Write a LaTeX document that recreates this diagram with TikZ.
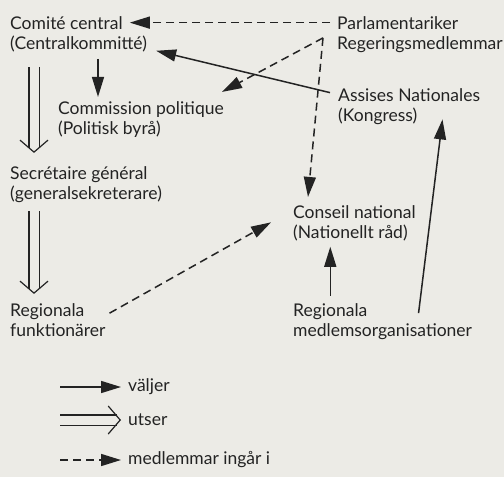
\documentclass[tikz,border=0pt]{standalone}
\usepackage{fontspec}
\setmainfont{Lato}
\usetikzlibrary{arrows.meta,calc}

\definecolor{paper}{RGB}{236,235,230}
\definecolor{ink}{RGB}{35,35,35}

\tikzset{
  lbl/.style={anchor=base west, inner sep=0pt, text=ink, font=\fontsize{17.5}{21}\selectfont},
  elect/.style={draw=ink, line width=1.5pt, -{Triangle[length=20pt,width=12pt]}},
  member/.style={elect, dash pattern=on 8pt off 5pt},
  appoint/.style={draw=ink, line width=1.1pt, double=paper, double distance=9pt, shorten >=4.5pt},
  vhead/.style={draw=paper, line width=1pt, -{Straight Barb[length=12pt,width=28pt,color=ink,line width=1.2pt]}}
}
\newcommand\appointarrow[2]{%
  \draw[appoint] (#1) -- (#2);
  \draw[vhead] ($(#2)!13pt!(#1)$) -- (#2);}

\begin{document}
\begin{tikzpicture}[x=1pt,y=-1pt]
\fill[paper](0,0) rectangle (504,477);
\useasboundingbox (0,0) rectangle (504,477);

% organs
\node[lbl] (cc) at (10,29) {Comité central};
\node[lbl] (cc2) at (10,49) {(Centralkommitté)};
\node[lbl] (parl) at (337,29) {Parlamentariker};
\node[lbl] (parl2) at (337,49) {Regeringsmedlemmar};
\node[lbl] (cp) at (58,114) {Commission politique};
\node[lbl] (cp2) at (58,134) {(Politisk byrå)};
\node[lbl] (an) at (338,101) {Assises Nationales};
\node[lbl] (an2) at (338,121) {(Kongress)};
\node[lbl] (sg) at (10,179) {Secrétaire général};
\node[lbl] (sg2) at (10,199) {(generalsekreterare)};
\node[lbl] (cn) at (293,218) {Conseil national};
\node[lbl] (cn2) at (293,238) {(Nationellt råd)};
\node[lbl] (rf) at (10,316) {Regionala};
\node[lbl] (rf2) at (10,336) {funktionärer};
\node[lbl] (rm) at (293,316) {Regionala};
\node[lbl] (rm2) at (293,336) {medlemsorganisationer};

\coordinate (pk) at ([xshift=-14pt,yshift=-2pt]parl2.north west);

% connectors
\draw[member] ([xshift=-7pt]parl.west) -- ([xshift=7pt]cc.east);
\draw[member] (pk) -- ([xshift=-2pt,yshift=9pt]cp.north east);
\draw[member] (pk) -- ([xshift=15pt,yshift=8pt]cn.north west);
\draw[member] ([xshift=25pt,yshift=-2pt]rf.east) -- ([xshift=-22pt,yshift=-4pt]cn.south west);
\draw[elect] ([xshift=-8pt,yshift=2pt]an.west) -- ([xshift=9pt,yshift=1pt]cc2.south east);
\draw[elect] ([xshift=40pt]cp.north west |- cc2.south) ++(0,7) -- ([xshift=40pt,yshift=4pt]cp.north west);
\draw[elect] ([yshift=7pt]rm.north) -- ([yshift=-6pt]rm.north |- cn2.south);
\draw[elect] ([xshift=51pt,yshift=-2pt]rm.east) -- ([xshift=25pt,yshift=5pt]an2.south east);

\coordinate (d1) at ([xshift=24pt,yshift=-15pt]cc2.south west);
\coordinate (d2) at ([xshift=24pt,yshift=13pt]sg.north west);
\coordinate (d3) at ([xshift=24pt,yshift=-9pt]sg2.south west);
\coordinate (d4) at ([xshift=24pt,yshift=9pt]rf.north west);
\appointarrow{d1}{d2}
\appointarrow{d3}{d4}

% legend
\node[lbl, anchor=west] (vj) at (128,387) {väljer};
\node[lbl, anchor=west] (ut) at (128,420) {utser};
\node[lbl, anchor=west] (mi) at (128,460) {medlemmar ingår i};
\coordinate (l1) at (60,387);
\coordinate (l2) at (60,420);
\coordinate (l3) at (60,460);
\coordinate (l2e) at ([xshift=-7pt]ut.west);
\draw[elect] (l1) -- ([xshift=-7pt]vj.west);
\appointarrow{l2}{l2e}
\draw[member] (l3) -- ([xshift=-7pt]mi.west);
\end{tikzpicture}
\end{document}
